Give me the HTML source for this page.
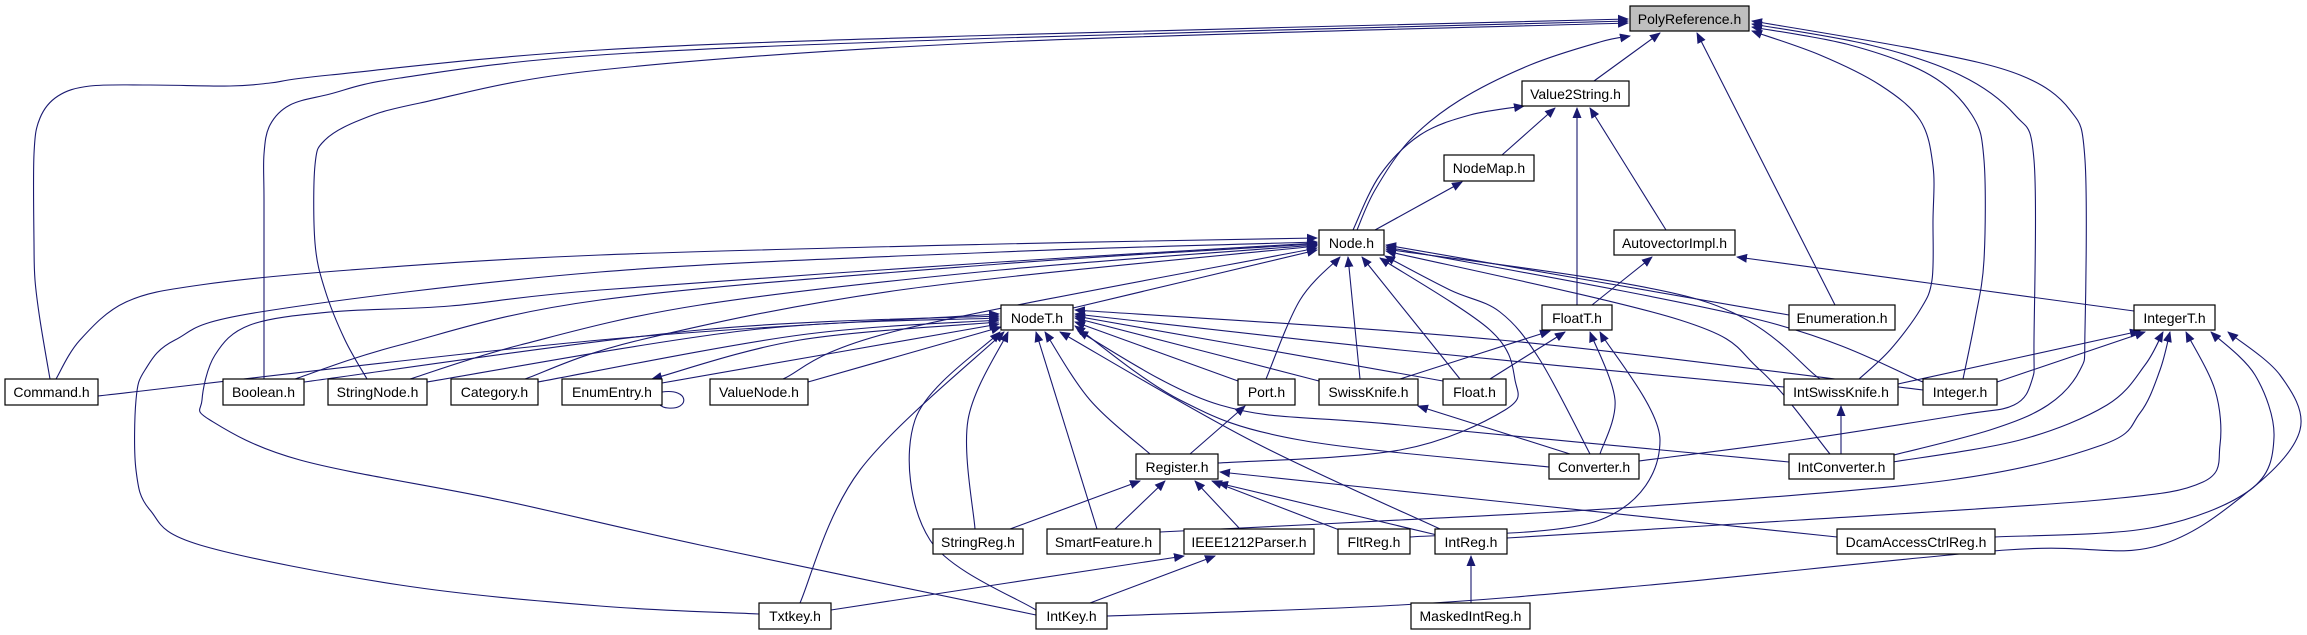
<!DOCTYPE html>
<html><head><meta charset="utf-8"><style>
html,body{margin:0;padding:0;background:#fff;}
svg{display:block}
text{font-family:"Liberation Sans",sans-serif;font-size:14px;fill:#000}
</style></head><body>
<svg id="g" width="2307" height="635" viewBox="0 0 2307 635" xmlns="http://www.w3.org/2000/svg">
<defs><marker id="a" markerWidth="11" markerHeight="9" refX="10" refY="4.5" orient="auto" markerUnits="userSpaceOnUse"><path d="M0,0 L11,4.5 L0,9 z" fill="#191970"/></marker></defs>
<g id="edges" fill="none" stroke="#191970" stroke-width="1.1"></g>
<path d="M662,392 C690,388 690,410 668,408 C660,408 655,400 652,395" fill="none" stroke="#191970" stroke-width="1.1"/>
<g id="nodes" stroke="#000" stroke-width="1.2">
<rect x="1630" y="6" width="119" height="25" fill="#bfbfbf"/>
<rect x="1522" y="81" width="107" height="25" fill="#fff"/>
<rect x="1444" y="155" width="90" height="26" fill="#fff"/>
<rect x="1319" y="230" width="65" height="25" fill="#fff"/>
<rect x="1614" y="230" width="121" height="25" fill="#fff"/>
<rect x="1001" y="305" width="72" height="25" fill="#fff"/>
<rect x="1542" y="305" width="70" height="25" fill="#fff"/>
<rect x="1789" y="305" width="106" height="25" fill="#fff"/>
<rect x="2134" y="305" width="81" height="25" fill="#fff"/>
<rect x="5" y="379" width="93" height="26" fill="#fff"/>
<rect x="223" y="379" width="81" height="26" fill="#fff"/>
<rect x="328" y="379" width="99" height="26" fill="#fff"/>
<rect x="451" y="379" width="87" height="26" fill="#fff"/>
<rect x="562" y="379" width="100" height="26" fill="#fff"/>
<rect x="710" y="379" width="98" height="26" fill="#fff"/>
<rect x="1238" y="379" width="57" height="26" fill="#fff"/>
<rect x="1319" y="379" width="99" height="26" fill="#fff"/>
<rect x="1443" y="379" width="63" height="26" fill="#fff"/>
<rect x="1784" y="379" width="114" height="26" fill="#fff"/>
<rect x="1923" y="379" width="74" height="26" fill="#fff"/>
<rect x="1136" y="454" width="82" height="25" fill="#fff"/>
<rect x="1549" y="454" width="90" height="25" fill="#fff"/>
<rect x="1789" y="454" width="105" height="25" fill="#fff"/>
<rect x="933" y="529" width="90" height="25" fill="#fff"/>
<rect x="1047" y="529" width="113" height="25" fill="#fff"/>
<rect x="1184" y="529" width="130" height="25" fill="#fff"/>
<rect x="1338" y="529" width="72" height="25" fill="#fff"/>
<rect x="1435" y="529" width="72" height="25" fill="#fff"/>
<rect x="1837" y="529" width="158" height="25" fill="#fff"/>
<rect x="759" y="603" width="72" height="26" fill="#fff"/>
<rect x="1036" y="603" width="71" height="26" fill="#fff"/>
<rect x="1411" y="603" width="119" height="26" fill="#fff"/>
</g>
<g text-anchor="middle">
<text x="1689.5" y="24">PolyReference.h</text>
<text x="1575.5" y="99">Value2String.h</text>
<text x="1489" y="173">NodeMap.h</text>
<text x="1351.5" y="248">Node.h</text>
<text x="1674.5" y="248">AutovectorImpl.h</text>
<text x="1037" y="323">NodeT.h</text>
<text x="1577" y="323">FloatT.h</text>
<text x="1842" y="323">Enumeration.h</text>
<text x="2174.5" y="323">IntegerT.h</text>
<text x="51.5" y="397">Command.h</text>
<text x="263.5" y="397">Boolean.h</text>
<text x="377.5" y="397">StringNode.h</text>
<text x="494.5" y="397">Category.h</text>
<text x="612" y="397">EnumEntry.h</text>
<text x="759" y="397">ValueNode.h</text>
<text x="1266.5" y="397">Port.h</text>
<text x="1368.5" y="397">SwissKnife.h</text>
<text x="1474.5" y="397">Float.h</text>
<text x="1841" y="397">IntSwissKnife.h</text>
<text x="1960" y="397">Integer.h</text>
<text x="1177" y="472">Register.h</text>
<text x="1594" y="472">Converter.h</text>
<text x="1841.5" y="472">IntConverter.h</text>
<text x="978" y="547">StringReg.h</text>
<text x="1103.5" y="547">SmartFeature.h</text>
<text x="1249" y="547">IEEE1212Parser.h</text>
<text x="1374" y="547">FltReg.h</text>
<text x="1471" y="547">IntReg.h</text>
<text x="1916" y="547">DcamAccessCtrlReg.h</text>
<text x="795" y="621">Txtkey.h</text>
<text x="1071.5" y="621">IntKey.h</text>
<text x="1470.5" y="621">MaskedIntReg.h</text>
</g>
</svg>
<script>
var E=[
[[50,379],[40,320],[35,280],[34,243],[34,154],[40,118],[58,96],[90,86],[150,85],[230,86],[270,83],[330,75],[600,50],[1000,35],[1628,19]],
[[264,379],[264,300],[264,200],[264,154],[270,125],[290,105],[330,94],[400,78],[600,55],[1000,38],[1628,21]],
[[367,379],[345,340],[325,290],[315,243],[315,165],[325,140],[360,120],[420,103],[600,70],[1000,42],[1628,23]],
[[1357,230],[1375,190],[1410,140],[1460,100],[1530,65],[1600,42],[1630,36]],
[[1594,81],[1660,33]],
[[1835,305],[1697,33]],
[[1859,379],[1890,350],[1920,310],[1932,280],[1933,220],[1933,166],[1920,120],[1880,85],[1820,55],[1752,31]],
[[1963,379],[1975,320],[1984,260],[1984,160],[1972,115],[1930,75],[1850,45],[1752,27]],
[[1639,461],[1800,440],[1960,415],[2014,405],[2032,380],[2034,340],[2034,160],[2015,115],[1960,75],[1870,45],[1752,24]],
[[1894,455],[1990,430],[2048,405],[2080,370],[2085,330],[2085,160],[2070,110],[2020,75],[1920,50],[1752,21]],
[[1353,230],[1380,175],[1420,135],[1470,115],[1524,106]],
[[1502,155],[1555,108]],
[[1577,305],[1577,108]],
[[1666,230],[1590,108]],
[[1375,230],[1462,182]],
[[1592,305],[1652,257]],
[[2134,311],[1737,257]],
[[1073,308],[1317,250]],
[[56,379],[80,340],[126,302],[200,285],[350,270],[600,255],[1000,244],[1317,238]],
[[759,614],[600,606],[400,585],[200,545],[150,510],[136,470],[136,400],[145,370],[175,340],[260,312],[600,272],[1000,252],[1317,242]],
[[1036,615],[700,545],[500,500],[300,460],[210,420],[202,400],[215,355],[250,325],[330,312],[450,306],[600,290],[1000,262],[1317,243]],
[[295,379],[400,345],[600,300],[1000,264],[1317,244]],
[[410,379],[520,345],[700,305],[1000,270],[1317,245]],
[[525,379],[640,340],[900,290],[1317,246]],
[[783,379],[900,330],[1317,248]],
[[1266,379],[1300,300],[1340,257]],
[[1360,379],[1348,257]],
[[1460,379],[1362,257]],
[[1218,463],[1400,450],[1505,410],[1515,380],[1490,330],[1380,258]],
[[1590,454],[1540,360],[1500,312],[1450,290],[1385,256]],
[[1830,454],[1760,370],[1680,320],[1386,251]],
[[1820,379],[1700,300],[1386,249]],
[[1923,382],[1760,320],[1386,247]],
[[1789,315],[1386,245]],
[[98,396],[600,340],[999,314]],
[[304,382],[700,330],[999,316]],
[[427,382],[750,330],[999,318]],
[[538,382],[800,335],[999,320]],
[[999,322],[800,340],[652,379]],
[[662,383],[999,324]],
[[808,382],[1001,327]],
[[1238,381],[1075,322]],
[[1319,381],[1075,318]],
[[1443,381],[1075,316]],
[[1784,387],[1400,350],[1075,314]],
[[1923,390],[1500,340],[1075,310]],
[[1549,467],[1300,440],[1180,400],[1075,326]],
[[1789,462],[1400,425],[1220,405],[1078,331]],
[[1150,454],[1090,400],[1045,332]],
[[975,529],[968,420],[1008,332]],
[[1097,529],[1036,332]],
[[1440,529],[1250,440],[1060,332]],
[[1036,610],[930,540],[915,420],[1000,332]],
[[800,603],[860,470],[1004,332]],
[[1400,379],[1550,331]],
[[1490,379],[1565,332]],
[[1600,454],[1615,400],[1590,332]],
[[1410,537],[1600,520],[1660,440],[1600,332]],
[[1898,384],[2140,331]],
[[1997,382],[2145,332]],
[[1893,462],[2020,440],[2107,405],[2145,365],[2163,332]],
[[1160,532],[1400,520],[1650,506],[1950,480],[2102,445],[2140,413],[2160,370],[2170,332]],
[[1507,538],[1800,520],[2100,500],[2203,482],[2220,445],[2215,390],[2186,332]],
[[1995,537],[2150,528],[2250,490],[2274,437],[2255,375],[2211,332]],
[[1107,616],[1400,605],[1650,585],[2006,550],[2153,547],[2250,490],[2300,430],[2280,375],[2228,332]],
[[1190,454],[1245,406]],
[[1570,454],[1418,406]],
[[1841,454],[1841,406]],
[[1010,529],[1140,481]],
[[1115,529],[1165,481]],
[[1240,529],[1195,481]],
[[1342,531],[1212,481]],
[[1437,535],[1218,483]],
[[1837,537],[1220,472]],
[[831,610],[1184,556]],
[[1090,603],[1215,556]],
[[1471,603],[1471,556]]
];
var g=document.getElementById('edges'),h='';
E.forEach(function(p){
 var d='M'+p[0][0]+','+p[0][1];
 for(var i=0;i<p.length-1;i++){
  var p0=p[Math.max(0,i-1)],p1=p[i],p2=p[i+1],p3=p[Math.min(p.length-1,i+2)];
  var c1x=p1[0]+(p2[0]-p0[0])/6,c1y=p1[1]+(p2[1]-p0[1])/6,c2x=p2[0]-(p3[0]-p1[0])/6,c2y=p2[1]-(p3[1]-p1[1])/6;
  d+=' C'+c1x.toFixed(1)+','+c1y.toFixed(1)+' '+c2x.toFixed(1)+','+c2y.toFixed(1)+' '+p2[0]+','+p2[1];
 }
 h+='<path d="'+d+'" marker-end="url(#a)"/>';
});
g.innerHTML=h;
</script>
</body></html>
